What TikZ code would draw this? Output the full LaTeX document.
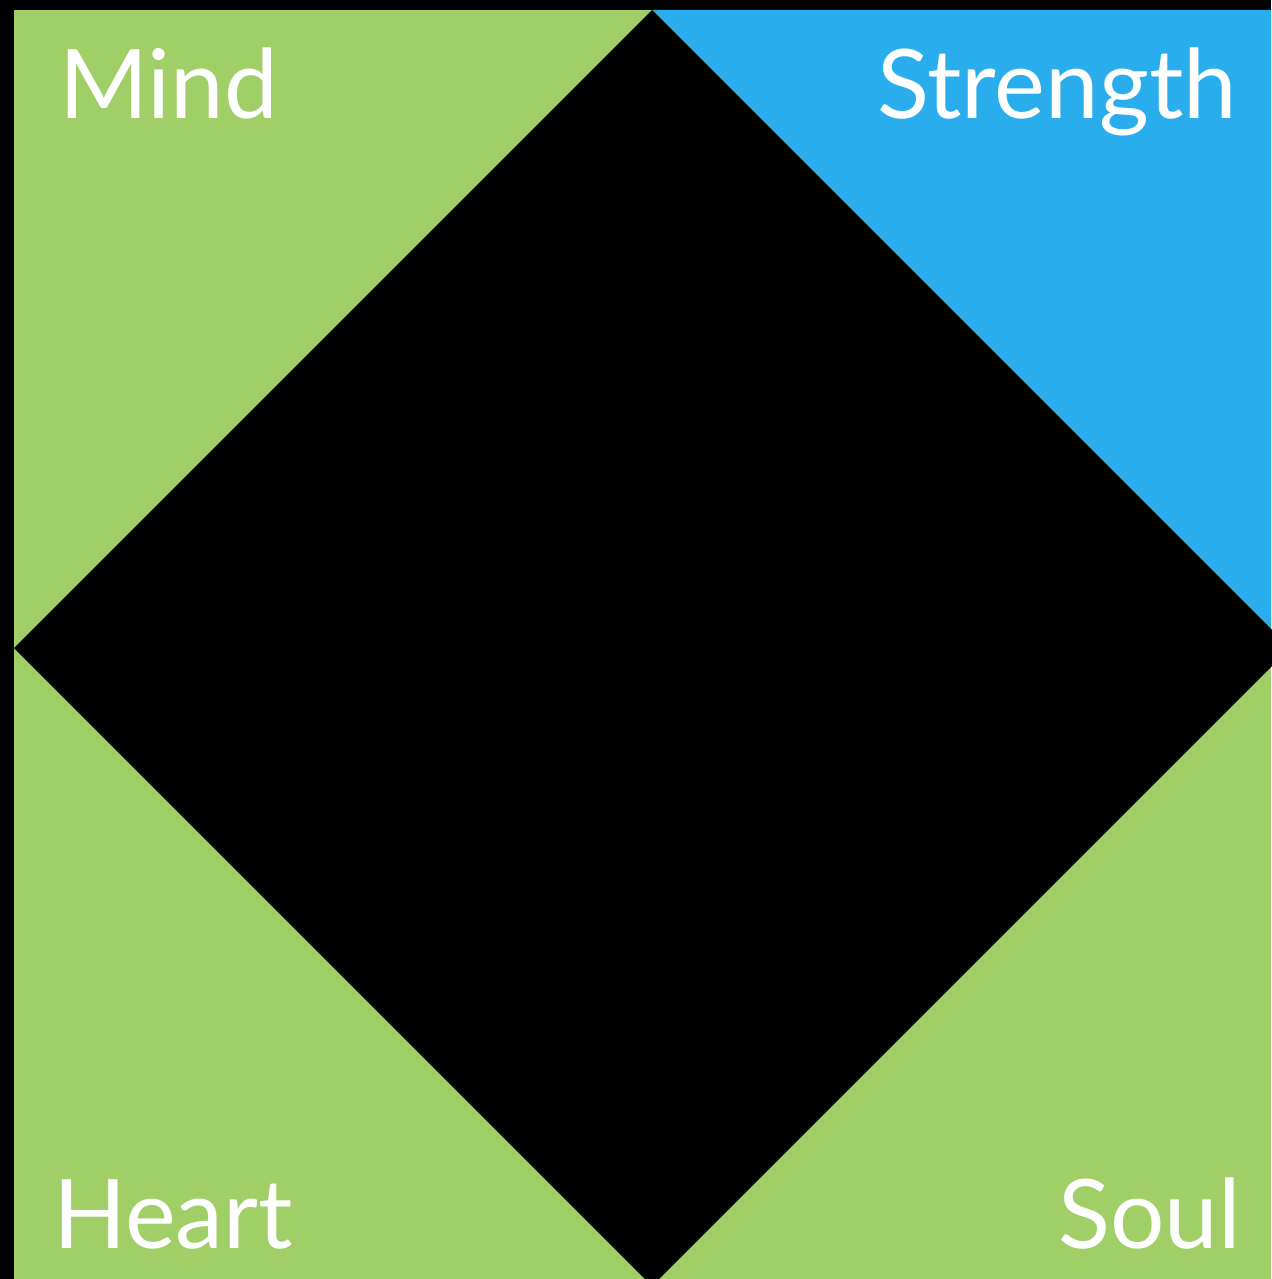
\documentclass[tikz,border=0pt]{standalone}
\usepackage{fontspec}
\setmainfont{Lato}
\definecolor{leafgreen}{HTML}{A0CE67}
\definecolor{skyblue}{HTML}{29ADEC}
\tikzset{lbl/.style={text=white,inner sep=0pt,font=\fontsize{96}{96}\selectfont}}
\begin{document}
\begin{tikzpicture}[x=1pt,y=-1pt]
\useasboundingbox (0,0) rectangle (1271,1279);
\fill[black] (0,0) rectangle (1271,1279);
\fill[leafgreen] (14,10) rectangle (1271,1279);
\fill[skyblue] (652,10) -- (1271,10) -- (1271,629) -- cycle;
\fill[black] (652,10) -- (1290,648) -- (652,1286) -- (14,648) -- cycle;
\node[lbl,anchor=base west] (mind) at (59,118) {Mind};
\node[lbl,anchor=base east] (strength) at (1237,118) {Strength};
\node[lbl,anchor=base west] (heart) at (53,1248) {Heart};
\node[lbl,anchor=base east] (soul) at (1241,1248) {Soul};
\end{tikzpicture}
\end{document}
